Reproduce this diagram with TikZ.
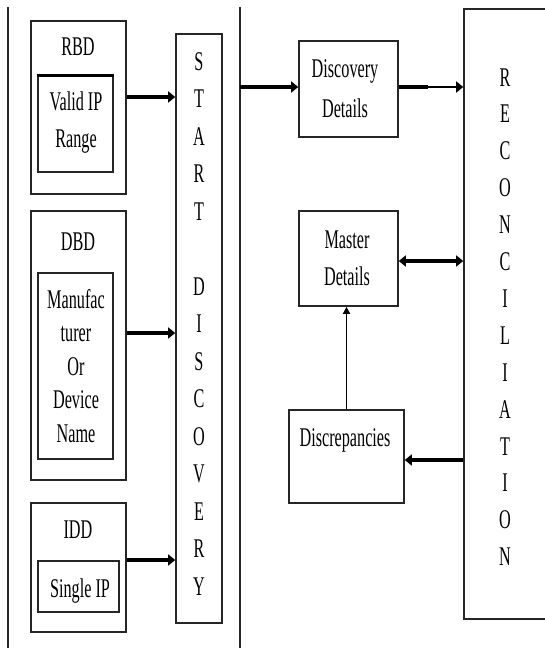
\documentclass[tikz,border=0pt]{standalone}
\usepackage{fontspec}
\setmainfont[FakeStretch=0.6]{Liberation Serif}
\usetikzlibrary{arrows.meta}
\begin{document}
\begin{tikzpicture}[x=1pt,y=-1pt,
  box/.style={draw=black!85, line width=1.6pt, inner sep=0pt},
  frame/.style={draw=black!85, line width=1.6pt},
  txt/.style={font=\fontsize{27}{27}\selectfont, anchor=base, inner sep=0pt},
  big/.style={line width=3.4pt, -{Triangle[length=7pt,width=11pt]}},
  bigboth/.style={line width=3.4pt, {Triangle[length=7pt,width=11pt]}-{Triangle[length=7pt,width=11pt]}},
  thinarrow/.style={line width=1.4pt, -{Triangle[length=7pt,width=7pt]}},
  ]
\useasboundingbox (0,0) rectangle (545,648);
% frame lines
\coordinate (fa) at (8,7);
\coordinate (fb) at (8,648);
\coordinate (fc) at (240,7);
\coordinate (fd) at (240,648);
\draw[frame] (fa) -- (fb);
\draw[frame] (fc) -- (fd);
% left boxes
\node[box, minimum width=95pt, minimum height=173pt] (rbd) at (78.5,107.5) {};
\node[box, minimum width=75pt, minimum height=96pt] (valid) at (75.5,124) {};
\draw[line width=3.4pt] (valid.north west) -- (valid.north east);
\node[box, minimum width=95pt, minimum height=269pt] (dbd) at (78.5,345.5) {};
\node[box, minimum width=75pt, minimum height=186pt] (manu) at (75.5,366) {};
\node[box, minimum width=95pt, minimum height=129pt] (idd) at (78.5,567.5) {};
\node[box, minimum width=81pt, minimum height=51pt] (single) at (78.5,586.5) {};
\node[box, minimum width=46pt, minimum height=589pt] (start) at (199,328.5) {};
% right boxes
\node[box, minimum width=99pt, minimum height=96pt] (disc) at (348.5,89) {};
\node[box, minimum width=99pt, minimum height=95pt] (master) at (348.5,258.5) {};
\node[box, minimum width=115pt, minimum height=93pt] (discr) at (346.5,456.5) {};
\node[box, minimum width=116pt, minimum height=610pt] (recon) at (522,314) {};
% texts
\node[txt] (t1) at (78,55) {RBD};
\node[txt] (t2) at (76,110) {Valid IP};
\node[txt] (t3) at (76,147) {Range};
\node[txt] (t4) at (78,250) {DBD};
\node[txt] (t5) at (76,308) {Manufac};
\node[txt] (t6) at (76,341.5) {turer};
\node[txt] (t7) at (76,375) {Or};
\node[txt] (t8) at (76,408.5) {Device};
\node[txt] (t9) at (76,442) {Name};
\node[txt] (t10) at (78,538) {IDD};
\node[txt] (t11) at (80,597) {Single IP};
\node[txt] (t12) at (345,77) {Discovery};
\node[txt] (t13) at (345,117) {Details};
\node[txt] (t14) at (347,248) {Master};
\node[txt] (t15) at (347,285) {Details};
\node[txt] (t16) at (345,446) {Discrepancies};
% START DISCOVERY letters
\foreach \l [count=\i from 0] in {S,T,A,R,T,{},D,I,S,C,O,V,E,R,Y}{
  \node[txt] (s\i) at (199,70+37.5*\i) {\l};
}
% RECONCILIATION letters
\foreach \l [count=\i from 0] in {R,E,C,O,N,C,I,L,I,A,T,I,O,N}{
  \node[txt] (r\i) at (505,86+36.9*\i) {\l};
}
% connectors
\coordinate (y1) at (0,97);
\coordinate (y2) at (0,333);
\coordinate (y3) at (0,560);
\coordinate (y4) at (0,87);
\coordinate (y5) at (0,261);
\coordinate (y6) at (0,460);
\coordinate (f1) at (240,87);
\draw[big] (rbd.east |- y1) -- (start.west |- y1);
\draw[big] (dbd.east |- y2) -- (start.west |- y2);
\draw[big] (idd.east |- y3) -- (start.west |- y3);
\draw[big] (f1) -- (disc.west |- y4);
\draw[line width=1.8pt, -{Triangle[length=7pt,width=11pt]}] (disc.east |- y4) -- (recon.west |- y4);
\draw[line width=3.4pt] (disc.east |- y4) -- ++(29,0);
\draw[bigboth] (master.east |- y5) -- (recon.west |- y5);
\draw[thinarrow] (discr.north) -- (discr.north |- master.south);
\draw[big] (recon.west |- y6) -- (discr.east |- y6);
\end{tikzpicture}
\end{document}
